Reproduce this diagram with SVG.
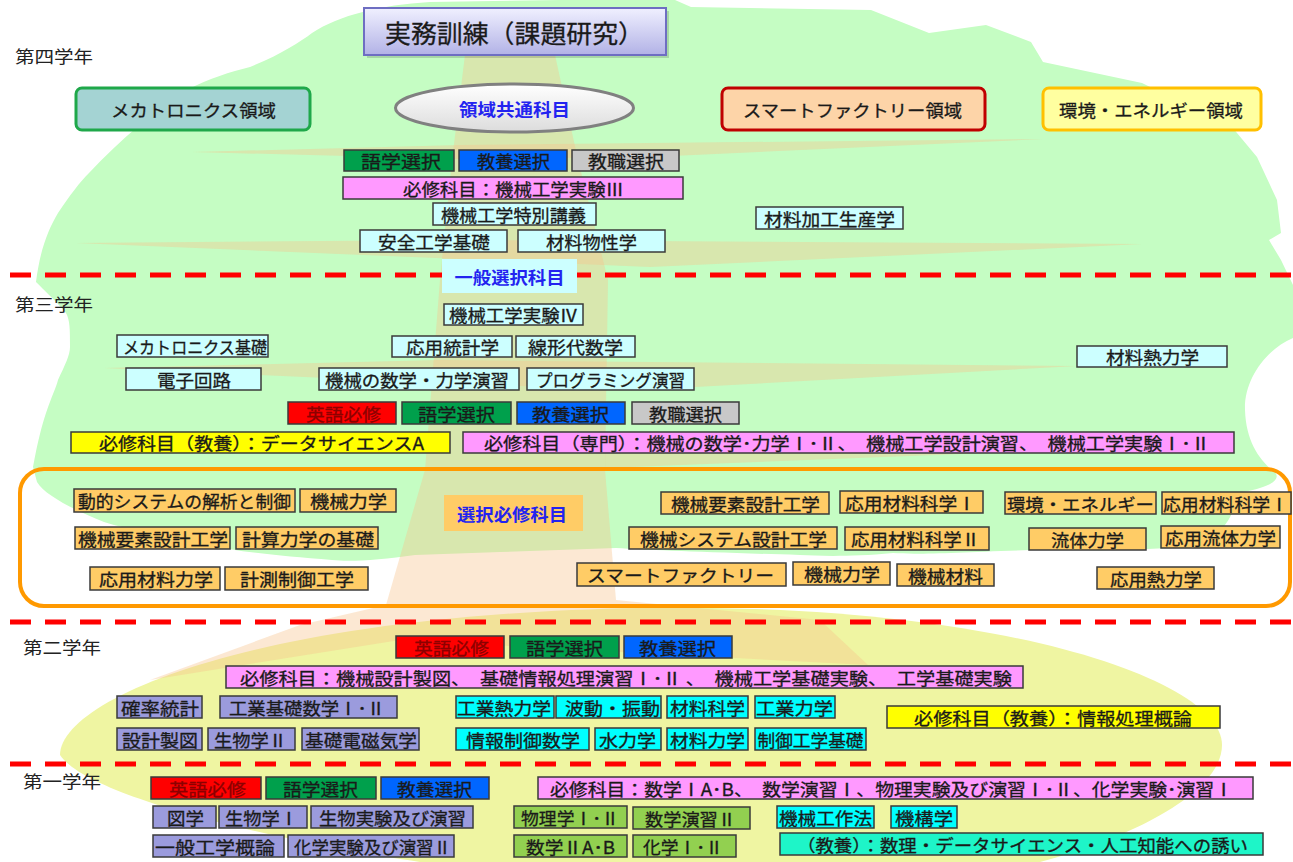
<svg xmlns="http://www.w3.org/2000/svg" width="1293" height="862" viewBox="0 0 1293 862">
<style>
.t{font-family:"Noto Sans CJK JP","Noto Sans CJK SC",sans-serif;font-size:17px;fill:#1a1a1a;stroke:#1a1a1a;stroke-width:0.3;text-anchor:middle;dominant-baseline:central}
.yr{font-family:"Noto Sans CJK JP","Noto Sans CJK SC",sans-serif;font-size:17px;fill:#222;dominant-baseline:central}
.lbl{font-weight:bold;fill:#2323f0;stroke:none}
.tr{fill:#8c0000;stroke:#8c0000}
.b{stroke:#3a3a3a;stroke-width:1.5}
.cy{fill:#ccffff}.rd{fill:#ff0000}.gn{fill:#00a04c}.bl{fill:#0066ff}.gy{fill:#c8c8c8}.pk{fill:#ff99ff}.yl{fill:#ffff00}.or{fill:#ffcc66}.lv{fill:#9b9bdd}.cn{fill:#00ffff}.ol{fill:#92d050}.tq{fill:#1ef5c8}
.area{stroke-width:3}
.tk{fill:#f6c28c;fill-opacity:0.38}
.dash{stroke:#ff0000;stroke-width:5;stroke-dasharray:21 14;fill:none}
</style>
<defs>
<linearGradient id="gTitle" x1="0" y1="0" x2="0" y2="1"><stop offset="0" stop-color="#f0f0ff"/><stop offset="1" stop-color="#b2b2e6"/></linearGradient>
<linearGradient id="gEll" x1="0" y1="0" x2="0" y2="1"><stop offset="0" stop-color="#ffffff"/><stop offset="1" stop-color="#dcdcdc"/></linearGradient>
</defs>
<rect width="1293" height="862" fill="#ffffff"/>
<g id="background">
<path fill="#c5fdc3" d="M36,282 C40,250 48,230 58,213 C70,195 80,182 89,173 C120,140 155,110 187,90 C210,78 230,72 250,67 C280,55 300,42 312,33 C340,15 380,5 430,2 L560,0 L675,0 L691,7 L871,10 L929,33 L986,25 L1031,42 L1043,62 L1142,83 L1232,127 L1257,157 L1277,200 L1281,233 L1269,240 L1281,260 L1293,285 L1293,338 C1265,350 1244,380 1245,410 C1246,440 1258,458 1272,470 C1285,478 1270,488 1242,492 C1232,510 1230,530 1200,546 L1169,548 C1100,552 1060,549 1031,550 C960,552 920,555 893,553 C850,557 820,556 800,555 C700,552 650,550 616,548 L500,552 L415,555 C380,560 350,562 332,560 C280,556 240,552 207,545 C160,535 130,530 104,522 C70,508 45,495 37,482 L33,467 C38,440 42,425 46,413 C52,395 56,388 58,380 C65,365 70,355 70,347 C70,330 70,320 66,313 C55,300 44,290 36,282 Z"/>
<path fill="#eff5a2" d="M60,755 C60,700 250,615 640,608 C1000,602 1222,680 1222,745 C1222,790 1140,835 1040,862 L420,862 C300,845 90,800 60,755 Z"/>
<path class="tk" d="M465,55 L555,55 L578,160 L608,280 L605,470 L616,600 L820,620 L868,665 L620,652 L400,640 L150,680 L300,625 L386,605 L425,470 L440,280 L452,160 Z"/>
<path class="tk" d="M192,152 L460,145 L1043,139 L650,157 L460,159 Z"/>
<path class="tk" d="M76,243 L460,240 L1142,244 L650,267 L460,259 Z"/>
<path class="tk" d="M104,368 L440,360 L1077,366 L640,390 L440,383 Z"/>
<path class="tk" d="M605,450 L1240,443 L605,468 Z"/>
</g>
<g id="dividers">
<line class="dash" x1="10" y1="275" x2="1293" y2="275"/>
<line class="dash" x1="10" y1="622" x2="1293" y2="622"/>
<line class="dash" x1="10" y1="764" x2="1293" y2="764"/>
</g>
<g id="connectors"></g>
<g id="years">
<text class="yr" x="15" y="55" textLength="78" lengthAdjust="spacingAndGlyphs">第四学年</text>
<text class="yr" x="15" y="303" textLength="78" lengthAdjust="spacingAndGlyphs">第三学年</text>
<text class="yr" x="23" y="646" textLength="78" lengthAdjust="spacingAndGlyphs">第二学年</text>
<text class="yr" x="23" y="780" textLength="78" lengthAdjust="spacingAndGlyphs">第一学年</text>
</g>
<g id="n_title"><rect x="367" y="11" width="302" height="47" fill="#000" fill-opacity="0.15"/><rect x="364" y="8" width="302" height="47" fill="url(#gTitle)" stroke="#6e6ec2" stroke-width="2"/><text class="t" x="514.5" y="31.5" style="font-size:25px" textLength="259" lengthAdjust="spacingAndGlyphs">実務訓練（課題研究）</text></g>
<g id="n_mecha_area"><rect x="76" y="88" width="234" height="42" rx="6" fill="#a4d3d3" stroke="#1fa84a" class="area"/><text class="t" x="193.5" y="109" textLength="165" lengthAdjust="spacingAndGlyphs">メカトロニクス領域</text></g>
<g id="n_common"><ellipse cx="514.5" cy="108" rx="119" ry="24" fill="url(#gEll)" stroke="#808080" stroke-width="3"/><text class="t lbl" x="514.5" y="108" textLength="111" lengthAdjust="spacingAndGlyphs">領域共通科目</text></g>
<g id="n_smart_area"><rect x="722" y="88" width="263" height="42" rx="6" fill="#fdd4a8" stroke="#c00000" class="area"/><text class="t" x="852.5" y="109" textLength="219" lengthAdjust="spacingAndGlyphs">スマートファクトリー領域</text></g>
<g id="n_env_area"><rect x="1043" y="88" width="218" height="42" rx="6" fill="#ffffa0" stroke="#ffc000" class="area"/><text class="t" x="1151" y="109" textLength="184" lengthAdjust="spacingAndGlyphs">環境・エネルギー領域</text></g>
<g id="n_go4"><rect class="b gn" x="344" y="150" width="110" height="21"/><text class="t" x="401" y="160.5" textLength="80" lengthAdjust="spacingAndGlyphs">語学選択</text></g>
<g id="n_kyo4"><rect class="b bl" x="459" y="150" width="108" height="21"/><text class="t" x="513.5" y="160.5" textLength="73" lengthAdjust="spacingAndGlyphs">教養選択</text></g>
<g id="n_shoku4"><rect class="b gy" x="572" y="150" width="107" height="21"/><text class="t" x="626" y="160.5" textLength="76" lengthAdjust="spacingAndGlyphs">教職選択</text></g>
<g id="n_req4"><rect class="b pk" x="343" y="177" width="340" height="22"/><text class="t" x="513.5" y="188" textLength="221" lengthAdjust="spacingAndGlyphs">必修科目：機械工学実験Ⅲ</text></g>
<g id="n_tokubetsu"><rect class="b cy" x="433" y="203" width="163" height="22"/><text class="t" x="513.5" y="214" textLength="145" lengthAdjust="spacingAndGlyphs">機械工学特別講義</text></g>
<g id="n_kako"><rect class="b cy" x="756" y="207" width="147" height="22"/><text class="t" x="829.5" y="218" textLength="131" lengthAdjust="spacingAndGlyphs">材料加工生産学</text></g>
<g id="n_anzen"><rect class="b cy" x="360" y="230" width="147" height="22"/><text class="t" x="434" y="241" textLength="112" lengthAdjust="spacingAndGlyphs">安全工学基礎</text></g>
<g id="n_bussei"><rect class="b cy" x="518" y="230" width="147" height="22"/><text class="t" x="591.5" y="241" textLength="91" lengthAdjust="spacingAndGlyphs">材料物性学</text></g>
<g id="n_ippan"><rect x="442" y="259" width="135" height="34" fill="#ccffff"/><text class="t lbl" x="509.5" y="276" textLength="110" lengthAdjust="spacingAndGlyphs">一般選択科目</text></g>
<g id="n_jikken4"><rect class="b cy" x="444" y="304" width="139" height="21"/><text class="t" x="513.5" y="314.5" textLength="129" lengthAdjust="spacingAndGlyphs">機械工学実験Ⅳ</text></g>
<g id="n_mecha_kiso"><rect class="b cy" x="117" y="335" width="151" height="22"/><text class="t" x="195" y="346" textLength="144" lengthAdjust="spacingAndGlyphs">メカトロニクス基礎</text></g>
<g id="n_toukei"><rect class="b cy" x="392" y="336" width="120" height="21"/><text class="t" x="452.5" y="346.5" textLength="93" lengthAdjust="spacingAndGlyphs">応用統計学</text></g>
<g id="n_senkei"><rect class="b cy" x="516" y="336" width="119" height="21"/><text class="t" x="575.5" y="346.5" textLength="95" lengthAdjust="spacingAndGlyphs">線形代数学</text></g>
<g id="n_zairyonetsu"><rect class="b cy" x="1077" y="346" width="150" height="21"/><text class="t" x="1152.5" y="356.5" textLength="93" lengthAdjust="spacingAndGlyphs">材料熱力学</text></g>
<g id="n_denshi"><rect class="b cy" x="126" y="368" width="135" height="22"/><text class="t" x="194" y="379" textLength="74" lengthAdjust="spacingAndGlyphs">電子回路</text></g>
<g id="n_kikai_sugaku"><rect class="b cy" x="319" y="368" width="200" height="22"/><text class="t" x="417" y="379" textLength="184" lengthAdjust="spacingAndGlyphs">機械の数学・力学演習</text></g>
<g id="n_programming"><rect class="b cy" x="527" y="368" width="167" height="22"/><text class="t" x="610.5" y="379" textLength="149" lengthAdjust="spacingAndGlyphs">プログラミング演習</text></g>
<g id="n_eigo3"><rect class="b rd" x="288" y="402" width="108" height="22"/><text class="t tr" x="343.5" y="413" textLength="75" lengthAdjust="spacingAndGlyphs">英語必修</text></g>
<g id="n_go3"><rect class="b gn" x="402" y="402" width="109" height="22"/><text class="t" x="456.5" y="413" textLength="77" lengthAdjust="spacingAndGlyphs">語学選択</text></g>
<g id="n_kyo3"><rect class="b bl" x="517" y="402" width="108" height="22"/><text class="t" x="570.5" y="413" textLength="77" lengthAdjust="spacingAndGlyphs">教養選択</text></g>
<g id="n_shoku3"><rect class="b gy" x="632" y="402" width="107" height="22"/><text class="t" x="685.5" y="413" textLength="73" lengthAdjust="spacingAndGlyphs">教職選択</text></g>
<g id="n_ds"><rect class="b yl" x="71" y="432" width="379" height="21"/><text class="t" x="261.5" y="442.5" textLength="325" lengthAdjust="spacingAndGlyphs">必修科目（教養）：データサイエンスA</text></g>
<g id="n_req3"><rect class="b pk" x="463" y="432" width="771" height="21"/><text class="t" x="847" y="442.5" textLength="726" lengthAdjust="spacingAndGlyphs">必修科目（専門）：機械の数学･力学Ⅰ･Ⅱ、　機械工学設計演習、　機械工学実験Ⅰ･Ⅱ</text></g>
<g id="g_elective"><rect x="20" y="469" width="1270" height="137" rx="24" fill="none" stroke="#ff9900" stroke-width="4"/></g>
<g id="n_sentaku"><rect x="444" y="495" width="139" height="36" fill="#ffcc66"/><text class="t lbl" x="512" y="513" textLength="110" lengthAdjust="spacingAndGlyphs">選択必修科目</text></g>
<g id="n_douteki"><rect class="b or" x="74" y="489" width="221" height="23"/><text class="t" x="184.5" y="500.5" textLength="213" lengthAdjust="spacingAndGlyphs">動的システムの解析と制御</text></g>
<g id="n_kikairiki_l"><rect class="b or" x="300" y="489" width="96" height="23"/><text class="t" x="348.5" y="500.5" textLength="77" lengthAdjust="spacingAndGlyphs">機械力学</text></g>
<g id="n_yoso_l"><rect class="b or" x="75" y="527" width="155" height="22"/><text class="t" x="153" y="538" textLength="150" lengthAdjust="spacingAndGlyphs">機械要素設計工学</text></g>
<g id="n_keisan"><rect class="b or" x="236" y="527" width="142" height="22"/><text class="t" x="308" y="538" textLength="132" lengthAdjust="spacingAndGlyphs">計算力学の基礎</text></g>
<g id="n_ouyouzai"><rect class="b or" x="90" y="567" width="130" height="23"/><text class="t" x="156" y="578.5" textLength="114" lengthAdjust="spacingAndGlyphs">応用材料力学</text></g>
<g id="n_keisoku"><rect class="b or" x="225" y="567" width="143" height="23"/><text class="t" x="297" y="578.5" textLength="114" lengthAdjust="spacingAndGlyphs">計測制御工学</text></g>
<g id="n_yoso_r"><rect class="b or" x="661" y="492" width="168" height="22"/><text class="t" x="745.5" y="503" textLength="149" lengthAdjust="spacingAndGlyphs">機械要素設計工学</text></g>
<g id="n_kagaku1a"><rect class="b or" x="840" y="491" width="143" height="22"/><text class="t" x="910.5" y="502" textLength="131" lengthAdjust="spacingAndGlyphs">応用材料科学Ⅰ</text></g>
<g id="n_env"><rect class="b or" x="1005" y="492" width="151" height="22"/><text class="t" x="1080.5" y="503" textLength="147" lengthAdjust="spacingAndGlyphs">環境・エネルギー</text></g>
<g id="n_kagaku1b"><rect class="b or" x="1162" y="492" width="129" height="22"/><text class="t" x="1225.5" y="503" textLength="125" lengthAdjust="spacingAndGlyphs">応用材料科学Ⅰ</text></g>
<g id="n_system"><rect class="b or" x="629" y="527" width="208" height="22"/><text class="t" x="733.5" y="538" textLength="187" lengthAdjust="spacingAndGlyphs">機械システム設計工学</text></g>
<g id="n_kagaku2"><rect class="b or" x="845" y="527" width="144" height="23"/><text class="t" x="915.5" y="538.5" textLength="129" lengthAdjust="spacingAndGlyphs">応用材料科学Ⅱ</text></g>
<g id="n_ryutai"><rect class="b or" x="1029" y="528" width="117" height="22"/><text class="t" x="1087.5" y="539" textLength="73" lengthAdjust="spacingAndGlyphs">流体力学</text></g>
<g id="n_ouyouryutai"><rect class="b or" x="1161" y="526" width="119" height="22"/><text class="t" x="1220.5" y="537" textLength="111" lengthAdjust="spacingAndGlyphs">応用流体力学</text></g>
<g id="n_smart"><rect class="b or" x="577" y="563" width="209" height="23"/><text class="t" x="680.5" y="574.5" textLength="187" lengthAdjust="spacingAndGlyphs">スマートファクトリー</text></g>
<g id="n_kikairiki_r"><rect class="b or" x="793" y="562" width="97" height="23"/><text class="t" x="842" y="573.5" textLength="76" lengthAdjust="spacingAndGlyphs">機械力学</text></g>
<g id="n_kikaizairyo"><rect class="b or" x="897" y="564" width="97" height="22"/><text class="t" x="945.5" y="575" textLength="75" lengthAdjust="spacingAndGlyphs">機械材料</text></g>
<g id="n_netsu"><rect class="b or" x="1097" y="567" width="117" height="22"/><text class="t" x="1156" y="578" textLength="92" lengthAdjust="spacingAndGlyphs">応用熱力学</text></g>
<g id="n_eigo2"><rect class="b rd" x="396" y="636" width="108" height="22"/><text class="t tr" x="451.5" y="647" textLength="75" lengthAdjust="spacingAndGlyphs">英語必修</text></g>
<g id="n_go2"><rect class="b gn" x="510" y="636" width="109" height="22"/><text class="t" x="564.5" y="647" textLength="77" lengthAdjust="spacingAndGlyphs">語学選択</text></g>
<g id="n_kyo2"><rect class="b bl" x="624" y="636" width="108" height="22"/><text class="t" x="677.5" y="647" textLength="77" lengthAdjust="spacingAndGlyphs">教養選択</text></g>
<g id="n_req2"><rect class="b pk" x="226" y="666" width="797" height="22"/><text class="t" x="626" y="677" textLength="772" lengthAdjust="spacingAndGlyphs">必修科目：機械設計製図、　基礎情報処理演習Ⅰ･Ⅱ 、　機械工学基礎実験、　工学基礎実験</text></g>
<g id="n_kakuritsu"><rect class="b lv" x="117" y="696" width="85" height="22"/><text class="t" x="160" y="707" textLength="78" lengthAdjust="spacingAndGlyphs">確率統計</text></g>
<g id="n_kogyokiso"><rect class="b lv" x="220" y="696" width="177" height="22"/><text class="t" x="307" y="707" textLength="156" lengthAdjust="spacingAndGlyphs">工業基礎数学Ⅰ･Ⅱ</text></g>
<g id="n_kogyonetsu"><rect class="b cn" x="456" y="696" width="98" height="22"/><text class="t" x="504" y="707" textLength="94" lengthAdjust="spacingAndGlyphs">工業熱力学</text></g>
<g id="n_hado"><rect class="b cn" x="556" y="696" width="105" height="22"/><text class="t" x="612.5" y="707" textLength="95" lengthAdjust="spacingAndGlyphs">波動・振動</text></g>
<g id="n_zairyokagaku"><rect class="b cn" x="667" y="696" width="81" height="22"/><text class="t" x="707.5" y="707" textLength="75" lengthAdjust="spacingAndGlyphs">材料科学</text></g>
<g id="n_kogyoriki"><rect class="b cn" x="755" y="696" width="80" height="22"/><text class="t" x="794.5" y="707" textLength="77" lengthAdjust="spacingAndGlyphs">工業力学</text></g>
<g id="n_joho"><rect class="b yl" x="887" y="706" width="333" height="22"/><text class="t" x="1053" y="717" textLength="278" lengthAdjust="spacingAndGlyphs">必修科目（教養）：情報処理概論</text></g>
<g id="n_sekkei"><rect class="b lv" x="117" y="728" width="85" height="22"/><text class="t" x="160" y="739" textLength="76" lengthAdjust="spacingAndGlyphs">設計製図</text></g>
<g id="n_seibutsu2"><rect class="b lv" x="208" y="728" width="87" height="22"/><text class="t" x="250.5" y="739" textLength="73" lengthAdjust="spacingAndGlyphs">生物学Ⅱ</text></g>
<g id="n_denji"><rect class="b lv" x="302" y="728" width="117" height="22"/><text class="t" x="361" y="739" textLength="112" lengthAdjust="spacingAndGlyphs">基礎電磁気学</text></g>
<g id="n_johoseigyo"><rect class="b cn" x="456" y="728" width="133" height="22"/><text class="t" x="523" y="739" textLength="114" lengthAdjust="spacingAndGlyphs">情報制御数学</text></g>
<g id="n_suiriki"><rect class="b cn" x="595" y="728" width="66" height="22"/><text class="t" x="627.5" y="739" textLength="57" lengthAdjust="spacingAndGlyphs">水力学</text></g>
<g id="n_zairyoriki"><rect class="b cn" x="667" y="728" width="81" height="22"/><text class="t" x="707.5" y="739" textLength="75" lengthAdjust="spacingAndGlyphs">材料力学</text></g>
<g id="n_seigyo"><rect class="b cn" x="755" y="728" width="111" height="22"/><text class="t" x="810.5" y="739" textLength="106" lengthAdjust="spacingAndGlyphs">制御工学基礎</text></g>
<g id="n_eigo1"><rect class="b rd" x="151" y="777" width="110" height="22"/><text class="t tr" x="207.5" y="788" textLength="77" lengthAdjust="spacingAndGlyphs">英語必修</text></g>
<g id="n_go1"><rect class="b gn" x="266" y="777" width="110" height="22"/><text class="t" x="320.5" y="788" textLength="75" lengthAdjust="spacingAndGlyphs">語学選択</text></g>
<g id="n_kyo1"><rect class="b bl" x="381" y="777" width="108" height="22"/><text class="t" x="434.5" y="788" textLength="75" lengthAdjust="spacingAndGlyphs">教養選択</text></g>
<g id="n_req1"><rect class="b pk" x="538" y="777" width="715" height="22"/><text class="t" x="891.5" y="788" textLength="683" lengthAdjust="spacingAndGlyphs">必修科目：数学ⅠA･B、　数学演習Ⅰ、物理実験及び演習Ⅰ･Ⅱ、化学実験･演習Ⅰ</text></g>
<g id="n_zugaku"><rect class="b lv" x="153" y="806" width="63" height="22"/><text class="t" x="185.5" y="817" textLength="37" lengthAdjust="spacingAndGlyphs">図学</text></g>
<g id="n_seibutsu1"><rect class="b lv" x="219" y="806" width="88" height="22"/><text class="t" x="261.5" y="817" textLength="73" lengthAdjust="spacingAndGlyphs">生物学Ⅰ</text></g>
<g id="n_seibutsujikken"><rect class="b lv" x="311" y="806" width="162" height="22"/><text class="t" x="392.5" y="817" textLength="147" lengthAdjust="spacingAndGlyphs">生物実験及び演習</text></g>
<g id="n_butsuri"><rect class="b ol" x="514" y="806" width="113" height="22"/><text class="t" x="570" y="817" textLength="98" lengthAdjust="spacingAndGlyphs">物理学Ⅰ･Ⅱ</text></g>
<g id="n_sugakuenshu2"><rect class="b ol" x="633" y="807" width="117" height="22"/><text class="t" x="690.5" y="818" textLength="91" lengthAdjust="spacingAndGlyphs">数学演習Ⅱ</text></g>
<g id="n_kosaku"><rect class="b cn" x="777" y="806" width="97" height="22"/><text class="t" x="825.5" y="817" textLength="93" lengthAdjust="spacingAndGlyphs">機械工作法</text></g>
<g id="n_kikou"><rect class="b cn" x="891" y="806" width="66" height="22"/><text class="t" x="924" y="817" textLength="58" lengthAdjust="spacingAndGlyphs">機構学</text></g>
<g id="n_ippankogaku"><rect class="b lv" x="153" y="835" width="131" height="22"/><text class="t" x="215" y="846" textLength="120" lengthAdjust="spacingAndGlyphs">一般工学概論</text></g>
<g id="n_kagakujikken2"><rect class="b lv" x="288" y="835" width="166" height="22"/><text class="t" x="372.5" y="846" textLength="157" lengthAdjust="spacingAndGlyphs">化学実験及び演習Ⅱ</text></g>
<g id="n_sugaku2"><rect class="b ol" x="514" y="835" width="113" height="22"/><text class="t" x="570.5" y="846" textLength="89" lengthAdjust="spacingAndGlyphs">数学ⅡA･B</text></g>
<g id="n_kagaku12"><rect class="b ol" x="633" y="835" width="103" height="22"/><text class="t" x="683" y="846" textLength="80" lengthAdjust="spacingAndGlyphs">化学Ⅰ･Ⅱ</text></g>
<g id="n_yuuwaku"><rect class="b tq" x="780" y="833" width="483" height="22"/><text class="t" x="1022.5" y="844" textLength="451" lengthAdjust="spacingAndGlyphs">（教養）：数理・データサイエンス・人工知能への誘い</text></g>
</svg>
